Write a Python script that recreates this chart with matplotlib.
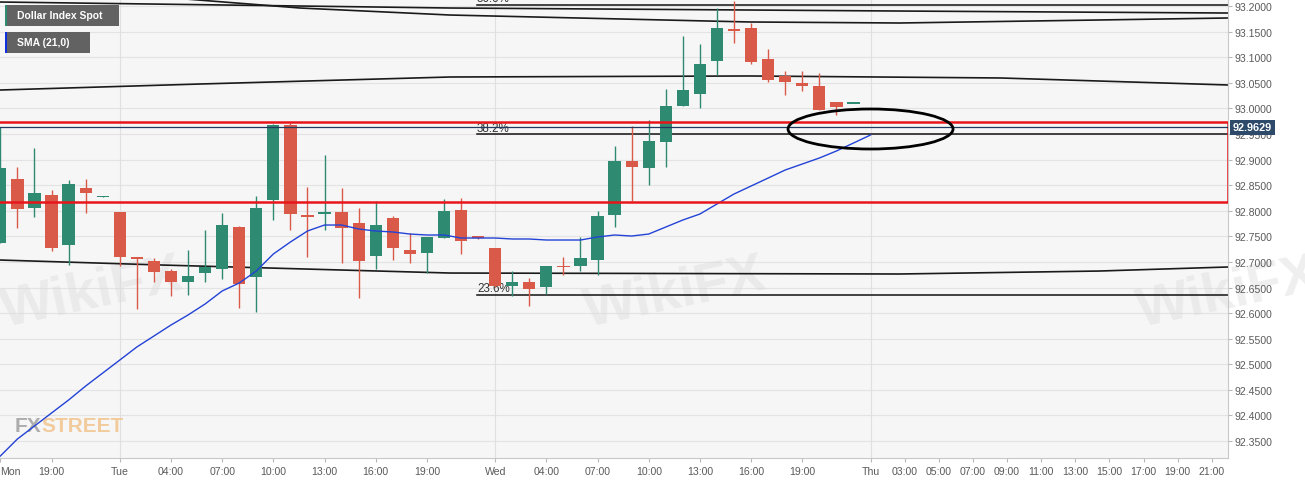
import matplotlib
matplotlib.use("Agg")
import matplotlib.pyplot as plt
from matplotlib.patches import Rectangle, Ellipse

plt.rcParams['font.family'] = ['Liberation Sans', 'DejaVu Sans']

# hourly candles, Mon -> Thu (index = candle slot)
opens = [92.7370, 92.8620, 92.8053, 92.8307, 92.7330, 92.8444, 92.8280, 92.7975, 92.7096, 92.7018,
         92.6822, 92.6608, 92.6783, 92.6862, 92.7682, 92.6705, 92.8210, 92.9675, 92.7917, 92.7936,
         92.7975, 92.7760, 92.7115, 92.7858, 92.7233, 92.7174, 92.7467, 92.8014, 92.7506, 92.7272,
         92.6529, 92.6608, 92.6510, 92.6920, 92.6920, 92.7037, 92.7917, 92.8972, 92.8835, 92.9343,
         93.0046, 93.0281, 93.0926, 93.1551, 93.1570, 93.0965, 93.0633, 93.0496, 93.0437, 93.0124,
         93.0100, 92.9629]
highs = [92.9636, 92.8854, 92.9226, 92.8405, 92.8600, 92.8620, 92.8290, 92.7975, 92.7096, 92.7076,
         92.6862, 92.7233, 92.7624, 92.7956, 92.7702, 92.8288, 92.9695, 92.9714, 92.8464, 92.9089,
         92.8444, 92.8053, 92.8190, 92.7897, 92.7565, 92.7487, 92.8229, 92.8249, 92.7506, 92.7272,
         92.6822, 92.6686, 92.6920, 92.7096, 92.7487, 92.7995, 92.9265, 92.9656, 92.9773, 93.0378,
         93.1414, 93.1258, 93.1961, 93.2098, 93.1668, 93.1160, 93.0730, 93.0730, 93.0691, 93.0124,
         93.0105, 92.9629]
lows = [92.7370, 92.7663, 92.7878, 92.7213, 92.6940, 92.7956, 92.8278, 92.6920, 92.6080, 92.6608,
        92.6334, 92.6354, 92.6608, 92.6666, 92.6100, 92.6021, 92.7819, 92.7624, 92.7096, 92.7624,
        92.6979, 92.6295, 92.6862, 92.7037, 92.6979, 92.6783, 92.7467, 92.7155, 92.7448, 92.6510,
        92.6334, 92.6139, 92.6373, 92.6744, 92.6822, 92.6744, 92.7682, 92.8190, 92.8503, 92.8854,
        93.0046, 93.0007, 93.0652, 93.1277, 93.0867, 93.0515, 93.0261, 93.0339, 92.9968, 92.9870,
        93.0099, 92.9629]
closes = [92.8835, 92.8034, 92.8346, 92.7272, 92.8522, 92.8346, 92.8288, 92.7096, 92.7066, 92.6803,
          92.6608, 92.6725, 92.6901, 92.7721, 92.6568, 92.8053, 92.9675, 92.7936, 92.7878, 92.7975,
          92.7663, 92.7018, 92.7721, 92.7272, 92.7155, 92.7487, 92.7995, 92.7409, 92.7467, 92.6529,
          92.6608, 92.6471, 92.6920, 92.6901, 92.7076, 92.7897, 92.8972, 92.8854, 92.9362, 93.0046,
          93.0359, 93.0867, 93.1570, 93.1512, 93.0906, 93.0554, 93.0515, 93.0437, 92.9968, 93.0027,
          93.0105, 92.9629]
sma = [92.3208, 92.3540, 92.3794, 92.4048, 92.4302, 92.4575, 92.4829, 92.5083, 92.5338, 92.5552,
       92.5767, 92.5963, 92.6178, 92.6432, 92.6588, 92.6822, 92.7155, 92.7389, 92.7604, 92.7721,
       92.7721, 92.7643, 92.7604, 92.7585, 92.7545, 92.7526, 92.7526, 92.7467, 92.7467, 92.7467,
       92.7448, 92.7448, 92.7428, 92.7428, 92.7428, 92.7487, 92.7526, 92.7506, 92.7545, 92.7682,
       92.7819, 92.7936, 92.8132, 92.8327, 92.8483, 92.8639, 92.8796, 92.8913, 92.9030, 92.9167,
       92.9323, 92.9480]
last_price = 92.9629

tick_pos = [0, 3, 7, 10, 13, 16, 19, 22, 25, 29, 32, 35, 38, 41, 44, 47, 51,
            53, 55, 57, 59, 61, 63, 65, 67, 69, 71]
tick_lbl = ['Mon', '19:00', 'Tue', '04:00', '07:00', '10:00', '13:00', '16:00', '19:00',
            'Wed', '04:00', '07:00', '10:00', '13:00', '16:00', '19:00', 'Thu',
            '03:00', '05:00', '07:00', '09:00', '11:00', '13:00', '15:00', '17:00', '19:00', '21:00']
day_pos = [7, 29, 51]

# drawing tools on the chart
fib_levels = [93.2027, 92.9499, 92.6354]
fib_labels = ['50.0%', '38.2%', '23.6%']
fib_start = 27.93
zone_top, zone_bottom = 92.9734, 92.8171
arc_a_x = [0, 26.35, 52.7, 71.95]
arc_a_y = [93.2078, 93.1961, 93.1902, 93.1863]
arc_b_x = [9.6, 17.56, 26.35, 43.9, 52.7, 64.4, 71.95]
arc_b_y = [93.2170, 93.1961, 93.1824, 93.1688, 93.1668, 93.1727, 93.1766]
arc_c_x = [0, 11.7, 26.35, 43.9, 58.6, 71.95]
arc_c_y = [93.0359, 93.0476, 93.0613, 93.0633, 93.0594, 93.0457]
arc_d_x = [0, 9.4, 26.35, 52.7, 64.4, 71.95]
arc_d_y = [92.7037, 92.6940, 92.6783, 92.6764, 92.6822, 92.6901]

GREEN = '#2f8a72'
RED = '#d95a48'

fig = plt.figure(figsize=(13.05, 4.85), dpi=100)
fig.patch.set_facecolor('white')
ax = fig.add_axes([0.0, 26 / 485, 1228 / 1305, 459 / 485])
ax.set_facecolor('#f6f6f6')
ax.set_xlim(-0.02, 71.95)
ax.set_ylim(92.3169, 93.2137)

yt = [92.35 + 0.05 * k for k in range(18)]
ax.set_yticks(yt)
ax.set_yticklabels(['%.4f' % v for v in yt])
ax.yaxis.tick_right()
ax.set_xticks(tick_pos)
ax.set_xticklabels(tick_lbl)
ax.get_xticklabels()[0].set_horizontalalignment('left')
ax.tick_params(axis='both', colors='#b8b8b8', labelcolor='#5a5a5a', labelsize=7.6, length=3, width=0.8)
ax.tick_params(axis='x', pad=3)
ax.tick_params(axis='y', pad=2)
for s in ['top', 'left']:
    ax.spines[s].set_visible(False)
for s in ['right', 'bottom']:
    ax.spines[s].set_color('#c8c8c8')

for v in yt:
    ax.axhline(v, color='#e3e3e3', lw=0.8, zorder=0)
for d in day_pos:
    ax.axvline(d, color='#e0e0e0', lw=0.8, zorder=0)

# watermarks
for wx, wy in [(0.075, 0.36), (0.55, 0.36), (1.0, 0.36)]:
    ax.text(wx, wy, 'WikiFX', transform=ax.transAxes, fontsize=40, fontweight='bold',
            color='#dcdcdc', alpha=0.45, rotation=12, ha='center', va='center', zorder=0.5)
fx = ax.text(0.012, 0.07, 'FX', transform=ax.transAxes, fontsize=15, fontweight='bold',
             color='#9a9a9a', alpha=0.8, va='center')
ax.annotate('STREET', xy=(1, 0.5), xycoords=fx, va='center', ha='left', fontsize=15,
            fontweight='bold', color='#f2c48e', alpha=0.85)

# candles
n = len(opens)
for i in range(n):
    o, h, l, c = opens[i], highs[i], lows[i], closes[i]
    if i == n - 1:
        col = '#2b4566'
    else:
        col = GREEN if c >= o else RED
    ax.vlines(i, l, h, color=col, lw=1, zorder=3)
    body = max(abs(c - o), 0.0025)
    ax.bar(i, body, bottom=min(o, c) - (body - abs(c - o)) / 2, width=0.72, color=col, zorder=3)

ax.plot(range(n), sma, color='#2342d6', lw=1, zorder=4)

# arcs / trend lines
for xs, ys in [(arc_a_x, arc_a_y), (arc_b_x, arc_b_y), (arc_c_x, arc_c_y), (arc_d_x, arc_d_y)]:
    ax.plot(xs, ys, color='#1a1a1a', lw=1.2, zorder=2)

# fibonacci levels
for lv, lb in zip(fib_levels, fib_labels):
    ax.plot([fib_start, 71.95], [lv, lv], color='#111111', lw=1.1, zorder=2)
    ax.text(fib_start, lv + 0.001, lb, fontsize=8.4, color='#333333', ha='left', va='bottom', zorder=2)

# red zone
ax.add_patch(Rectangle((-1, zone_bottom), 72.95, zone_top - zone_bottom, fill=False,
                       edgecolor='#e8161b', lw=1.8, zorder=5))

# current price line + label
ax.axhline(last_price, color='#1f3a5c', lw=0.9, zorder=5)
ax.text(1.004, last_price, '%.4f' % last_price, transform=ax.get_yaxis_transform(),
        fontsize=7.8, fontweight='bold', color='white', ha='left', va='center', zorder=10,
        clip_on=False, bbox=dict(boxstyle='square,pad=0.25', fc='#2d4a6b', ec='none'))

# ellipse
ax.add_patch(Ellipse((51.0, 92.9597), 9.67, 0.0782, fill=False, edgecolor='black', lw=2.0, zorder=6))

# legend tags
tags = [('Dollar Index Spot', 0.0041, 0.941, 0.0928, GREEN),
        ('SMA (21,0)', 0.0041, 0.882, 0.0692, '#1030e0')]
for txt, x0, y0, w, stripe in tags:
    ax.add_patch(Rectangle((x0, y0), w, 0.047, transform=ax.transAxes, fc='#626262', ec='none', zorder=8))
    ax.add_patch(Rectangle((x0, y0), 0.0018, 0.047, transform=ax.transAxes, fc=stripe, ec='none', zorder=9))
    ax.text(0.0138, y0 + 0.0235, txt, transform=ax.transAxes, fontsize=7.5, fontweight='bold',
            color='white', va='center', ha='left', zorder=9)

fig.savefig('out.png', dpi=100)
